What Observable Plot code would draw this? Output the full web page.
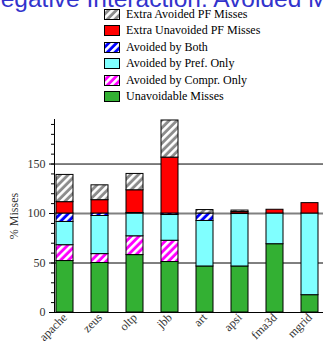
<!DOCTYPE html>
<html>
<head>
<meta charset="utf-8">
<script src="https://cdn.jsdelivr.net/npm/d3@7"></script>
<script src="https://cdn.jsdelivr.net/npm/@observablehq/plot@0.6"></script>
<style>
  body { margin: 0; background: #fff; }
  #wrap { position: relative; width: 323px; height: 341px; overflow: hidden; }
  #head { position: relative; width: 323px; height: 105px; }
  #title { position: absolute; left: -17px; top: -15px; white-space: nowrap; font-family: "Liberation Sans", Arial, sans-serif; font-size: 24.5px; color: #3333cc; }
  #legend { position: absolute; left: 104px; top: 6px; font-family: "Liberation Serif", "Times New Roman", serif; font-size: 12px; color: #000; }
  .row { display: flex; align-items: center; height: 16.5px; }
  .row svg { margin-right: 6px; }
  #chart svg { display: block; }
</style>
</head>
<body>
<svg width="0" height="0" style="position:absolute">
  <defs>
    <pattern id="hGray" patternUnits="userSpaceOnUse" width="5.5" height="5.5" patternTransform="rotate(45)">
      <rect width="5.5" height="5.5" fill="#8c8c8c"></rect><rect width="2.6" height="5.5" fill="#fff"></rect>
    </pattern>
    <pattern id="hBlue" patternUnits="userSpaceOnUse" width="5.5" height="5.5" patternTransform="rotate(45)">
      <rect width="5.5" height="5.5" fill="#0000ff"></rect><rect width="2.6" height="5.5" fill="#fff"></rect>
    </pattern>
    <pattern id="hMag" patternUnits="userSpaceOnUse" width="5.5" height="5.5" patternTransform="rotate(45)">
      <rect width="5.5" height="5.5" fill="#ff00ff"></rect><rect width="2.6" height="5.5" fill="#fff"></rect>
    </pattern>
  </defs>
</svg>
<div id="wrap">
  <div id="head">
    <div id="title">Negative Interaction: Avoided Misses</div>
    <div id="legend"></div>
  </div>
  <div id="chart"></div>
</div>
<script>
const categories = ["apache", "zeus", "oltp", "jbb", "art", "apsi", "fma3d", "mgrid"];
const seriesNames = ["Unavoidable Misses", "Avoided by Compr. Only", "Avoided by Pref. Only", "Avoided by Both", "Extra Unavoided PF Misses", "Extra Avoided PF Misses"];
const seriesFills = ["#33b033", "url(#hMag)", "#80ffff", "url(#hBlue)", "#ff0000", "url(#hGray)"];
const legendOrder = ["Extra Avoided PF Misses", "Extra Unavoided PF Misses", "Avoided by Both", "Avoided by Pref. Only", "Avoided by Compr. Only", "Unavoidable Misses"];

const unavoidable    = [52, 50, 58, 51, 46.5, 46.5, 69, 17.5];
const comprOnly      = [16, 9, 19, 21.5, 0, 0, 0, 0];
const prefOnly       = [23.5, 38.5, 23, 26, 46, 53, 31, 82.5];
const avoidedBoth    = [8.5, 2.5, 0.5, 1.5, 7.5, 0.5, 0, 0];
const extraUnavoided = [11.5, 13.5, 23, 56.5, 0, 1.5, 3.8, 10.5];
const extraAvoided   = [27.5, 15, 16.5, 37.5, 3.5, 1.5, 0, 0];
const yTicksMajor = [0, 50, 100, 150];

const seriesValues = [unavoidable, comprOnly, prefOnly, avoidedBoth, extraUnavoided, extraAvoided];
const rows = [];
categories.forEach((c, i) => {
  seriesNames.forEach((s, j) => {
    const v = seriesValues[j][i];
    if (v > 0) rows.push({cat: c, series: s, value: v});
  });
});

// legend
const leg = document.getElementById("legend");
legendOrder.forEach(name => {
  const fill = seriesFills[seriesNames.indexOf(name)];
  const r = document.createElement("div");
  r.className = "row";
  r.innerHTML = `<svg width="16" height="11"><rect x="0.5" y="0.5" width="15" height="10" fill="${fill}" stroke="#000" stroke-width="1"></rect></svg><span>${name}</span>`;
  leg.appendChild(r);
});

const chart = Plot.plot({
  width: 323,
  height: 236,
  marginLeft: 54,
  marginRight: 0,
  marginTop: 14,
  marginBottom: 29,
  style: {fontFamily: "'Liberation Serif', 'Times New Roman', serif", fontSize: "12px", color: "#000", background: "#fff"},
  x: {domain: categories, paddingInner: 0.525, paddingOuter: 0, align: 0.273, label: null},
  y: {domain: [0, 195], label: null},
  color: {domain: seriesNames, range: seriesFills},
  marks: [
    Plot.ruleY([50, 150], {stroke: "#000", strokeWidth: 1}),
    Plot.ruleY([100], {stroke: "#808080", strokeWidth: 2}),
    Plot.barY(rows, {x: "cat", y: "value", fill: "series", stroke: "#000", strokeWidth: 1, order: null}),
    Plot.ruleY([0], {stroke: "#000", strokeWidth: 1}),
    Plot.frame({anchor: "left", stroke: "#000"}),
    Plot.axisY({ticks: d3.range(0, 200, 10), tickSize: 3, tickFormat: () => "", label: null}),
    Plot.axisY({ticks: yTicksMajor, tickSize: 5, tickPadding: 4, fill: "#333", label: "% Misses", labelAnchor: "center", labelArrow: "none", labelOffset: 45}),
    Plot.axisX({tickRotate: -45, tickSize: 0, tickPadding: 3, fill: "#333", label: null})
  ]
});
document.getElementById("chart").appendChild(chart);
</script>
</body>
</html>
